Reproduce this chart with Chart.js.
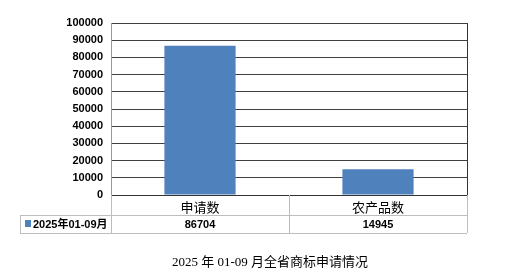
<!DOCTYPE html>
<html>
<head>
<meta charset="utf-8">
<script src="https://cdn.jsdelivr.net/npm/chart.js"></script>
<style>
  html, body { margin: 0; padding: 0; background: #fff; }
  #wrap { width: 508px; height: 280px; position: relative; }
</style>
</head>
<body>
<div id="wrap"><canvas id="chart" width="508" height="280"></canvas></div>
<script>
// values
const categories = ['申请数', '农产品数']
const seriesName = '2025年01-09月'
const seriesValues = [86704, 14945]
const yTicks = [0, 10000, 20000, 30000, 40000, 50000, 60000, 70000, 80000, 90000, 100000]
const chartTitle = '2025 年 01-09 月全省商标申请情况'

const barBlue = '#4f81bd'
const tableLine = '#bdbdbd'

// draws the data table under the axis, the right border and the title
const tablePlugin = {
    id: 'dataTable',
    afterDraw(chart) {
        const ctx = chart.ctx
        const area = chart.chartArea
        const x = chart.scales.x
        const rowTop = area.bottom
        const row1 = rowTop + 20
        const row2 = row1 + 18
        const tableLeft = 20
        ctx.save()
        ctx.strokeStyle = tableLine
        ctx.lineWidth = 1
        ctx.beginPath()
        // horizontal lines
        ctx.moveTo(tableLeft, row1 + 0.5); ctx.lineTo(area.right, row1 + 0.5)
        ctx.moveTo(tableLeft, row2 + 0.5); ctx.lineTo(area.right, row2 + 0.5)
        // vertical lines
        ctx.moveTo(tableLeft + 0.5, row1); ctx.lineTo(tableLeft + 0.5, row2)
        ctx.moveTo(area.left + 0.5, rowTop); ctx.lineTo(area.left + 0.5, row2)
        const mid = (x.getPixelForValue(0) + x.getPixelForValue(1)) / 2
        ctx.moveTo(Math.round(mid) + 0.5, rowTop); ctx.lineTo(Math.round(mid) + 0.5, row2)
        ctx.moveTo(area.right + 0.5, rowTop); ctx.lineTo(area.right + 0.5, row2)
        ctx.stroke()

        // plot right border
        ctx.strokeStyle = '#333'
        ctx.beginPath()
        ctx.moveTo(area.right + 0.5, area.top); ctx.lineTo(area.right + 0.5, area.bottom)
        ctx.stroke()

        // legend key + series name
        ctx.fillStyle = barBlue
        ctx.fillRect(25, row1 + 5, 6, 7)
        ctx.fillStyle = '#000'
        ctx.font = 'bold 11px "Liberation Sans", "Noto Sans CJK SC"'
        ctx.textAlign = 'left'
        ctx.textBaseline = 'middle'
        ctx.fillText(seriesName, 33, row1 + 9.5)

        // values
        ctx.textAlign = 'center'
        seriesValues.forEach((v, i) => {
            ctx.fillText(String(v), x.getPixelForValue(i), row1 + 9.5)
        })

        // title
        ctx.font = '13px "Liberation Serif", "Noto Sans CJK SC"'
        ctx.fillText(chartTitle, 270, 263)
        ctx.restore()
    }
}

new Chart(document.getElementById('chart'), {
    type: 'bar',
    data: {
        labels: categories,
        datasets: [{
            label: seriesName,
            data: seriesValues,
            backgroundColor: barBlue,
            borderWidth: 0,
            categoryPercentage: 1,
            barPercentage: 0.4
        }]
    },
    options: {
        responsive: false,
        animation: false,
        devicePixelRatio: 1,
        layout: { padding: { top: 23, right: 41, left: 0, bottom: 0 } },
        plugins: {
            legend: { display: false },
            tooltip: { enabled: false },
            title: { display: false }
        },
        scales: {
            x: {
                afterFit: s => { s.height = 85 },
                grid: { display: false, drawTicks: false },
                border: { display: true, color: '#333', width: 1 },
                ticks: {
                    padding: 4,
                    color: '#000',
                    font: { size: 13, family: '"Noto Sans CJK SC"' }
                }
            },
            y: {
                min: 0,
                max: 100000,
                afterFit: s => { s.width = 111 },
                afterBuildTicks: s => { s.ticks = yTicks.map(v => ({ value: v })) },
                grid: { color: '#404040', drawTicks: false },
                border: { display: true, color: '#999', width: 1 },
                ticks: {
                    autoSkip: false,
                    padding: 8,
                    color: '#000',
                    callback: v => String(v),
                    font: { size: 11, weight: 'bold', family: '"Liberation Sans", Arial' }
                }
            }
        }
    },
    plugins: [tablePlugin]
})
</script>
</body>
</html>
